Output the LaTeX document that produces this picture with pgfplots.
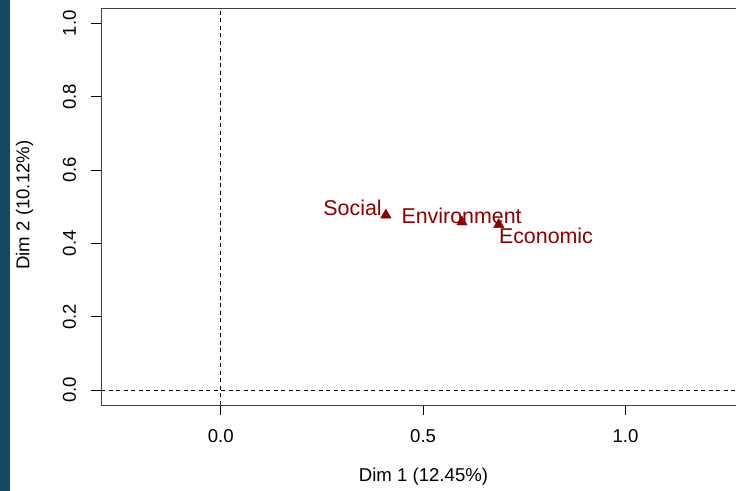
\documentclass[border=0pt]{standalone}
\usepackage{pgfplots}
\pgfplotsset{compat=1.18}
\usepackage{fontspec}
\setmainfont{Liberation Sans}
\definecolor{strip}{RGB}{20,74,95}
\definecolor{dred}{RGB}{139,0,0}
\begin{document}
\begin{tikzpicture}
\useasboundingbox (0bp,0bp) rectangle (736bp,491bp);
\fill[strip] (0bp,0bp) rectangle (10bp,491bp);
\begin{axis}[
 at={(101.3bp,86bp)}, anchor=south west,
 scale only axis, width=634.7bp, height=396.7bp,
 xmin=-0.295, xmax=1.273, ymin=-0.041, ymax=1.041,
 axis x line*=bottom, axis y line*=left,
 axis line style={black!75, line width=1bp},
 xtick={0,0.5,1}, ytick={0,0.2,0.4,0.6,0.8,1.0},
 tick align=outside, major tick length=10bp,
 tick style={black, line width=0.8bp},
 /pgf/number format/.cd, fixed, fixed zerofill, precision=1, assume math mode=true, /pgfplots/.cd,
 ticklabel style={font=\fontsize{18.6bp}{20bp}\selectfont, inner sep=0pt},
 xticklabel style={anchor=north},
 yticklabel style={rotate=90, anchor=south},
 xticklabel shift=14bp, yticklabel shift=15bp,
 clip=false,
]
\addplot[black, line width=0.8bp, dash pattern=on 4bp off 3.5bp] coordinates {(0,-0.041) (0,1.035)};
\addplot[black, line width=0.8bp, dash pattern=on 4bp off 3.5bp] coordinates {(-0.295,0) (1.273,0)};
\addplot[only marks, mark=triangle*, mark size=6bp, dred, mark options={fill=dred, draw=dred}] coordinates {
 (0.408,0.477) (0.596,0.458) (0.687,0.451)};
\begin{scope}[every node/.style={text=dred, inner sep=0pt, font=\fontsize{21.4bp}{23bp}\selectfont}]
\node[anchor=base east] at ([xshift=-4bp]axis cs:0.408,0.477) {Social};
\node[anchor=base west] at ([xshift=-60.6bp,yshift=-1bp]axis cs:0.596,0.458) {Environment};
\node[anchor=base west] at ([yshift=-18.7bp]axis cs:0.687,0.451) {Economic};
\end{scope}
\draw[black!75, line width=1bp] (rel axis cs:0,1) -- (rel axis cs:1.01,1);
\end{axis}
\node[font=\fontsize{18.6bp}{20bp}\selectfont, inner sep=0pt] at (423.5bp,14.3bp) {Dim 1 (12.45\%)};
\node[font=\fontsize{18.6bp}{20bp}\selectfont, inner sep=0pt, rotate=90] at (24.5bp,286bp) {Dim 2 (10.12\%)};
\end{tikzpicture}
\end{document}
